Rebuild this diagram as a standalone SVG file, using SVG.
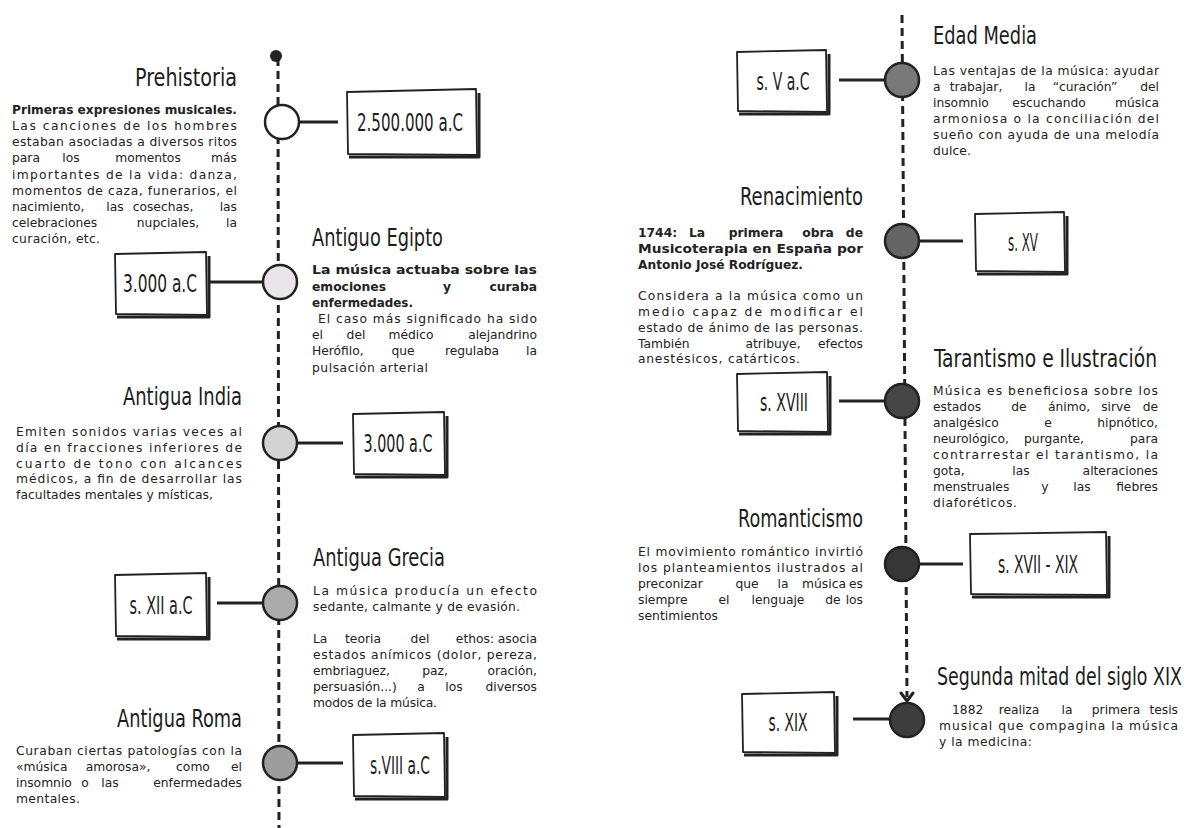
<svg xmlns="http://www.w3.org/2000/svg" width="1192" height="828" viewBox="0 0 1192 828">
<style>
.t{font-family:"Liberation Sans Narrow","DejaVu Sans Condensed","Roboto Condensed","Liberation Sans",sans-serif;font-stretch:condensed;font-size:24px;fill:#1c1c1c}
.lab{font-family:"Liberation Sans Narrow","DejaVu Sans Condensed","Roboto Condensed","Liberation Sans",sans-serif;font-stretch:condensed;font-size:24px;fill:#1c1c1c;text-anchor:middle}
.b{font-family:"DejaVu Sans","Open Sans","Liberation Sans",sans-serif;font-size:12.3px;fill:#222}
.bb{font-weight:700}
.m{text-anchor:middle}
.e{text-anchor:end}
.tl{fill:none;stroke:#222;stroke-width:3;stroke-dasharray:8 5}
.k{fill:none;stroke:#222;stroke-width:3}
.c{stroke:#222;stroke-width:2.5}
.bx{fill:#fff;stroke:#222;stroke-width:1.8;stroke-linejoin:round}
.sh{fill:none;stroke:#222;stroke-width:3;stroke-linejoin:round}
</style>
<rect width="1192" height="828" fill="#fff"/>

<g id="connectors">
  <line class="tl" x1="278" y1="58" x2="279" y2="828"/>
  <circle cx="276" cy="56" r="6" fill="#222"/>
  <line class="tl" x1="902" y1="15" x2="907" y2="697"/>
  <polyline class="k" points="901,693 907,701 913,693" stroke-linecap="round" stroke-linejoin="round"/>
  <line class="k" x1="298" y1="122" x2="338" y2="122"/>
  <line class="k" x1="210" y1="282" x2="263" y2="282"/>
  <line class="k" x1="297" y1="443" x2="343" y2="443"/>
  <line class="k" x1="217" y1="603" x2="263" y2="603"/>
  <line class="k" x1="298" y1="763" x2="343" y2="763"/>
  <line class="k" x1="839" y1="80" x2="885" y2="80"/>
  <line class="k" x1="920" y1="241" x2="963" y2="241"/>
  <line class="k" x1="839" y1="401" x2="885" y2="401"/>
  <line class="k" x1="920" y1="564" x2="963" y2="564"/>
  <line class="k" x1="853" y1="719" x2="890" y2="719"/>
</g>

<g id="prehistoria">
  <circle class="c" cx="282" cy="122" r="17" fill="#ffffff"/>
  <path class="bx" d="M347 92 L476 89 L477 155 L348 154 Z"/>
  <path class="sh" d="M479 93 L479 157 L349 157"/>
  <text class="lab" x="410" y="131" textLength="106" lengthAdjust="spacingAndGlyphs">2.500.000 a.C</text>
  <text class="t e" x="237" y="86" textLength="102" lengthAdjust="spacingAndGlyphs">Prehistoria</text>
  <text class="b bb" x="12" y="114" textLength="225" lengthAdjust="spacingAndGlyphs">Primeras expresiones musicales.</text>
  <text class="b" x="12" y="130" textLength="225" lengthAdjust="spacing">Las canciones de los hombres</text>
  <text class="b" x="12" y="146" textLength="225" lengthAdjust="spacing">estaban asociadas a diversos ritos</text>
  <text class="b" x="12" y="162">para</text><text class="b m" x="71" y="162">los</text><text class="b m" x="148" y="162">momentos</text><text class="b e" x="237" y="162">más</text>
  <text class="b" x="12" y="178.5" textLength="225" lengthAdjust="spacing">importantes de la vida: danza,</text>
  <text class="b" x="12" y="194.5" textLength="225" lengthAdjust="spacing">momentos de caza, funerarios, el</text>
  <text class="b" x="12" y="210.5">nacimiento,</text><text class="b m" x="115" y="210.5">las</text><text class="b m" x="163" y="210.5">cosechas,</text><text class="b e" x="237" y="210.5">las</text>
  <text class="b" x="12" y="226.5">celebraciones</text><text class="b m" x="168" y="226.5">nupciales,</text><text class="b e" x="237" y="226.5">la</text>
  <text class="b" x="12" y="243" textLength="88" lengthAdjust="spacing">curación, etc.</text>
</g>

<g id="antiguo-egipto">
  <circle class="c" cx="280" cy="282" r="17" fill="#e8e6e8"/>
  <path class="bx" d="M115 254 L206 252 L207 315 L116 314 Z"/>
  <path class="sh" d="M209 256 L209 317 L117 317"/>
  <text class="lab" x="160" y="292" textLength="74" lengthAdjust="spacingAndGlyphs">3.000 a.C</text>
  <text class="t" x="312" y="246" textLength="131" lengthAdjust="spacingAndGlyphs">Antiguo Egipto</text>
  <text class="b bb" x="312" y="274" textLength="225" lengthAdjust="spacingAndGlyphs">La música actuaba sobre las</text>
  <text class="b bb" x="312" y="290.5">emociones</text><text class="b bb m" x="447" y="290.5">y</text><text class="b bb e" x="537" y="290.5">curaba</text>
  <text class="b bb" x="312" y="306.5" textLength="101" lengthAdjust="spacingAndGlyphs">enfermedades.</text>
  <text class="b" x="318" y="323" textLength="219" lengthAdjust="spacing">El caso más significado ha sido</text>
  <text class="b" x="312" y="339">el</text><text class="b m" x="356" y="339">del</text><text class="b m" x="411" y="339">médico</text><text class="b e" x="537" y="339">alejandrino</text>
  <text class="b" x="312" y="355">Herófilo,</text><text class="b m" x="403" y="355">que</text><text class="b m" x="472" y="355">regulaba</text><text class="b e" x="537" y="355">la</text>
  <text class="b" x="312" y="371.5" textLength="116" lengthAdjust="spacing">pulsación arterial</text>
</g>

<g id="antigua-india">
  <circle class="c" cx="280" cy="443" r="17" fill="#d3d3d3"/>
  <path class="bx" d="M353 414 L444 412 L445 475 L354 474 Z"/>
  <path class="sh" d="M447 416 L447 477 L355 477"/>
  <text class="lab" x="398" y="452" textLength="69" lengthAdjust="spacingAndGlyphs">3.000 a.C</text>
  <text class="t e" x="242" y="405" textLength="119" lengthAdjust="spacingAndGlyphs">Antigua India</text>
  <text class="b" x="16" y="436" textLength="226" lengthAdjust="spacing">Emiten sonidos varias veces al</text>
  <text class="b" x="16" y="452" textLength="226" lengthAdjust="spacing">día en fracciones inferiores de</text>
  <text class="b" x="16" y="467.5" textLength="226" lengthAdjust="spacing">cuarto de tono con alcances</text>
  <text class="b" x="16" y="483" textLength="226" lengthAdjust="spacing">médicos, a fin de desarrollar las</text>
  <text class="b" x="16" y="499" textLength="197" lengthAdjust="spacing">facultades mentales y místicas,</text>
</g>

<g id="antigua-grecia">
  <circle class="c" cx="280" cy="603" r="17" fill="#ababab"/>
  <path class="bx" d="M115 575 L206 573 L207 637 L116 636 Z"/>
  <path class="sh" d="M209 577 L209 639 L117 639"/>
  <text class="lab" x="161" y="613.5" textLength="63" lengthAdjust="spacingAndGlyphs">s. XII a.C</text>
  <text class="t" x="313" y="566" textLength="132" lengthAdjust="spacingAndGlyphs">Antigua Grecia</text>
  <text class="b" x="313" y="595" textLength="224" lengthAdjust="spacing">La música producía un efecto</text>
  <text class="b" x="313" y="611" textLength="207" lengthAdjust="spacing">sedante, calmante y de evasión.</text>
  <text class="b" x="313" y="643">La</text><text class="b m" x="363" y="643">teoria</text><text class="b m" x="420" y="643">del</text><text class="b m" x="475" y="643">ethos:</text><text class="b e" x="537" y="643">asocia</text>
  <text class="b" x="313" y="659" textLength="224" lengthAdjust="spacing">estados anímicos (dolor, pereza,</text>
  <text class="b" x="313" y="675">embriaguez,</text><text class="b m" x="435" y="675">paz,</text><text class="b e" x="537" y="675">oración,</text>
  <text class="b" x="313" y="691">persuasión...)</text><text class="b m" x="421" y="691">a</text><text class="b m" x="454" y="691">los</text><text class="b e" x="537" y="691">diversos</text>
  <text class="b" x="313" y="707" textLength="124" lengthAdjust="spacing">modos de la música.</text>
</g>

<g id="antigua-roma">
  <circle class="c" cx="280" cy="763" r="17" fill="#9d9d9d"/>
  <path class="bx" d="M353 735 L444 733 L445 797 L354 796 Z"/>
  <path class="sh" d="M447 737 L447 799 L355 799"/>
  <text class="lab" x="400" y="773.5" textLength="60" lengthAdjust="spacingAndGlyphs">s.VIII a.C</text>
  <text class="t e" x="242" y="727" textLength="125" lengthAdjust="spacingAndGlyphs">Antigua Roma</text>
  <text class="b" x="16" y="755" textLength="226" lengthAdjust="spacing">Curaban ciertas patologías con la</text>
  <text class="b" x="16" y="771">«música</text><text class="b m" x="118" y="771">amorosa»,</text><text class="b m" x="193" y="771">como</text><text class="b e" x="242" y="771">el</text>
  <text class="b" x="16" y="787">insomnio</text><text class="b m" x="85" y="787">o</text><text class="b m" x="110" y="787">las</text><text class="b e" x="242" y="787">enfermedades</text>
  <text class="b" x="16" y="803" textLength="64" lengthAdjust="spacing">mentales.</text>
</g>

<g id="edad-media">
  <circle class="c" cx="902" cy="80" r="17" fill="#787878"/>
  <path class="bx" d="M737 52 L826 50 L827 112 L738 111 Z"/>
  <path class="sh" d="M829 54 L829 114 L739 114"/>
  <text class="lab" x="783" y="89.5" textLength="53" lengthAdjust="spacingAndGlyphs">s. V a.C</text>
  <text class="t" x="933" y="44" textLength="104" lengthAdjust="spacingAndGlyphs">Edad Media</text>
  <text class="b" x="933" y="75" textLength="226" lengthAdjust="spacing">Las ventajas de la música: ayudar</text>
  <text class="b" x="933" y="91">a</text><text class="b m" x="976" y="91">trabajar,</text><text class="b m" x="1030" y="91">la</text><text class="b m" x="1085" y="91">“curación”</text><text class="b e" x="1159" y="91">del</text>
  <text class="b" x="933" y="107">insomnio</text><text class="b m" x="1049" y="107">escuchando</text><text class="b e" x="1159" y="107">música</text>
  <text class="b" x="933" y="123" textLength="226" lengthAdjust="spacing">armoniosa o la conciliación del</text>
  <text class="b" x="933" y="139" textLength="226" lengthAdjust="spacing">sueño con ayuda de una melodía</text>
  <text class="b" x="933" y="155" textLength="38" lengthAdjust="spacing">dulce.</text>
</g>

<g id="renacimiento">
  <circle class="c" cx="902" cy="241" r="17" fill="#646464"/>
  <path class="bx" d="M975 214 L1064 212 L1065 272 L976 271 Z"/>
  <path class="sh" d="M1067 216 L1067 274 L977 274"/>
  <text class="lab" x="1023" y="250.5" textLength="30" lengthAdjust="spacingAndGlyphs">s. XV</text>
  <text class="t e" x="863" y="205" textLength="123" lengthAdjust="spacingAndGlyphs">Renacimiento</text>
  <text class="b bb" x="638" y="237">1744:</text><text class="b bb m" x="697" y="237">La</text><text class="b bb m" x="756" y="237">primera</text><text class="b bb m" x="818" y="237">obra</text><text class="b bb e" x="863" y="237">de</text>
  <text class="b bb" x="638" y="253" textLength="225" lengthAdjust="spacingAndGlyphs">Musicoterapia en España por</text>
  <text class="b bb" x="638" y="269" textLength="165" lengthAdjust="spacingAndGlyphs">Antonio José Rodríguez.</text>
  <text class="b" x="638" y="300" textLength="225" lengthAdjust="spacing">Considera a la música como un</text>
  <text class="b" x="638" y="316" textLength="225" lengthAdjust="spacing">medio capaz de modificar el</text>
  <text class="b" x="638" y="332" textLength="225" lengthAdjust="spacing">estado de ánimo de las personas.</text>
  <text class="b" x="638" y="348">También</text><text class="b m" x="773" y="348">atribuye,</text><text class="b e" x="863" y="348">efectos</text>
  <text class="b" x="638" y="363" textLength="162" lengthAdjust="spacing">anestésicos, catárticos.</text>
</g>

<g id="tarantismo-ilustracion">
  <circle class="c" cx="902" cy="401" r="17" fill="#454545"/>
  <path class="bx" d="M737 374 L827 372 L828 432 L738 431 Z"/>
  <path class="sh" d="M830 376 L830 434 L739 434"/>
  <text class="lab" x="784" y="410.5" textLength="48" lengthAdjust="spacingAndGlyphs">s. XVIII</text>
  <text class="t" x="934" y="367" textLength="223" lengthAdjust="spacingAndGlyphs">Tarantismo e Ilustración</text>
  <text class="b" x="933" y="395" textLength="225" lengthAdjust="spacing">Música es beneficiosa sobre los</text>
  <text class="b" x="933" y="411">estados</text><text class="b m" x="1019" y="411">de</text><text class="b m" x="1069" y="411">ánimo,</text><text class="b m" x="1116" y="411">sirve</text><text class="b e" x="1158" y="411">de</text>
  <text class="b" x="933" y="427">analgésico</text><text class="b m" x="1048" y="427">e</text><text class="b e" x="1158" y="427">hipnótico,</text>
  <text class="b" x="933" y="443">neurológico,</text><text class="b m" x="1054" y="443">purgante,</text><text class="b e" x="1158" y="443">para</text>
  <text class="b" x="933" y="459" textLength="225" lengthAdjust="spacing">contrarrestar el tarantismo, la</text>
  <text class="b" x="933" y="475">gota,</text><text class="b m" x="1021" y="475">las</text><text class="b e" x="1158" y="475">alteraciones</text>
  <text class="b" x="933" y="491">menstruales</text><text class="b m" x="1045" y="491">y</text><text class="b m" x="1082" y="491">las</text><text class="b e" x="1158" y="491">fiebres</text>
  <text class="b" x="933" y="507" textLength="84" lengthAdjust="spacing">diaforéticos.</text>
</g>

<g id="romanticismo">
  <circle class="c" cx="902" cy="564" r="17" fill="#363636"/>
  <path class="bx" d="M970 534 L1106 532 L1107 595 L971 594 Z"/>
  <path class="sh" d="M1109 536 L1109 597 L972 597"/>
  <text class="lab" x="1038" y="572.5" textLength="80" lengthAdjust="spacingAndGlyphs">s. XVII - XIX</text>
  <text class="t e" x="863" y="527" textLength="125" lengthAdjust="spacingAndGlyphs">Romanticismo</text>
  <text class="b" x="638" y="556" textLength="225" lengthAdjust="spacing">El movimiento romántico invirtió</text>
  <text class="b" x="638" y="572" textLength="225" lengthAdjust="spacing">los planteamientos ilustrados al</text>
  <text class="b" x="638" y="588">preconizar</text><text class="b m" x="747" y="588">que</text><text class="b m" x="783" y="588">la</text><text class="b m" x="824" y="588">música</text><text class="b e" x="863" y="588">es</text>
  <text class="b" x="638" y="604">siempre</text><text class="b m" x="724" y="604">el</text><text class="b m" x="778" y="604">lenguaje</text><text class="b m" x="833" y="604">de</text><text class="b e" x="863" y="604">los</text>
  <text class="b" x="638" y="620" textLength="80" lengthAdjust="spacing">sentimientos</text>
</g>

<g id="segunda-mitad-siglo-xix">
  <circle class="c" cx="907" cy="720" r="17" fill="#3d3d3d"/>
  <path class="bx" d="M742 694 L834 692 L835 753 L743 752 Z"/>
  <path class="sh" d="M837 696 L837 755 L744 755"/>
  <text class="lab" x="788" y="731" textLength="39" lengthAdjust="spacingAndGlyphs">s. XIX</text>
  <text class="t" transform="translate(937 685) scale(0.74 1)" x="0" y="0" textLength="331" lengthAdjust="spacingAndGlyphs">Segunda mitad del siglo XIX</text>
  <text class="b" x="952" y="714">1882</text><text class="b m" x="1019" y="714">realiza</text><text class="b m" x="1067" y="714">la</text><text class="b m" x="1116" y="714">primera</text><text class="b e" x="1178" y="714">tesis</text>
  <text class="b" x="939" y="730" textLength="239" lengthAdjust="spacing">musical que compagina la música</text>
  <text class="b" x="939" y="746" textLength="93" lengthAdjust="spacing">y la medicina:</text>
</g>
</svg>
